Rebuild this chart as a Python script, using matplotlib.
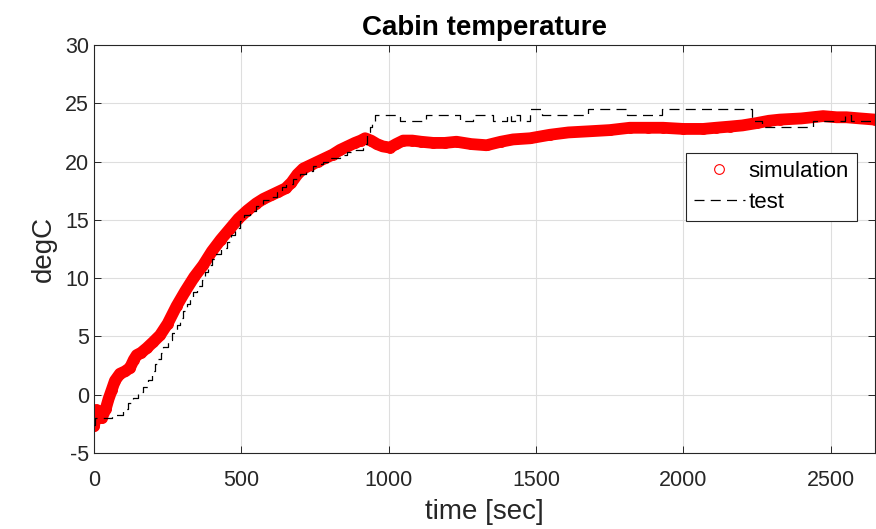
import matplotlib
matplotlib.use("Agg")
import matplotlib.pyplot as plt
import numpy as np

plt.rcParams['font.family'] = ['Liberation Sans', 'DejaVu Sans']
plt.rcParams['axes.unicode_minus'] = False

# Simulation readings (time [s], temperature [degC])
sim_time = [0, 9, 26, 40, 49, 60, 71, 88, 105, 122, 135, 145, 160, 179, 200, 224,
            250, 280, 310, 340, 370, 400, 430, 460, 490, 520, 550, 575, 600, 625,
            650, 670, 690, 710, 735, 760, 785, 810, 835, 860, 885, 905, 920, 940,
            960, 980, 1004, 1025, 1049, 1080, 1110, 1151, 1190, 1230, 1280, 1332,
            1380, 1422, 1480, 1547, 1610, 1682, 1750, 1818, 1880, 1931, 2000, 2067,
            2110, 2157, 2200, 2248, 2290, 2327, 2400, 2474, 2520, 2553, 2600, 2650]
sim_temp = [-2.7, -1.3, -2.0, -1.2, -0.4, 0.4, 1.2, 1.8, 2.0, 2.3, 3.0, 3.4, 3.6,
            4.0, 4.5, 5.1, 6.1, 7.6, 8.9, 10.1, 11.1, 12.3, 13.3, 14.2, 15.1, 15.8,
            16.4, 16.8, 17.1, 17.4, 17.7, 18.2, 18.9, 19.4, 19.7, 20.0, 20.3, 20.6,
            21.0, 21.3, 21.6, 21.8, 22.0, 21.8, 21.5, 21.3, 21.2, 21.5, 21.8, 21.8,
            21.7, 21.6, 21.6, 21.7, 21.5, 21.4, 21.7, 21.9, 22.0, 22.3, 22.5, 22.6,
            22.7, 22.9, 22.9, 22.9, 22.8, 22.8, 22.9, 23.0, 23.1, 23.3, 23.5, 23.6,
            23.7, 23.9, 23.8, 23.8, 23.7, 23.6]

# Test readings (step start time [s], temperature [degC])
test_time = [0, 4, 60, 99, 116, 133, 150, 167, 182, 196, 207, 218, 227, 235, 250,
             264, 280, 292, 303, 314, 326, 337, 351, 365, 377, 388, 399, 410, 430,
             450, 465, 480, 495, 510, 530, 550, 574, 597, 620, 637, 653, 676, 699,
             720, 744, 760, 778, 805, 834, 860, 885, 914, 925, 935, 943, 955, 1038,
             1126, 1242, 1285, 1355, 1400, 1415, 1430, 1445, 1478, 1519, 1676, 1808,
             1926, 2232, 2268, 2440, 2548, 2570, 2650]
test_temp = [-2.6, -2.0, -1.7, -1.2, -0.7, -0.3, 0.2, 0.7, 1.3, 2.0, 2.6, 3.1, 3.6,
             4.1, 4.7, 5.3, 6.0, 6.6, 7.2, 7.8, 8.3, 8.8, 9.3, 9.8, 10.5, 11.1, 11.6,
             12.1, 12.6, 13.1, 13.7, 14.3, 14.9, 15.4, 15.8, 16.2, 16.7, 17.0, 17.4,
             17.8, 18.1, 18.5, 18.9, 19.2, 19.6, 19.8, 20.0, 20.3, 20.6, 20.8, 21.0,
             21.5, 22.5, 23.0, 23.5, 24.0, 23.5, 24.0, 23.5, 24.0, 23.5, 24.0, 23.5,
             24.0, 23.5, 24.5, 24.0, 24.5, 24.0, 24.5, 23.5, 23.0, 23.5, 24.0, 23.5,
             23.5]

x_ticks = [0, 500, 1000, 1500, 2000, 2500]
y_ticks = [-5, 0, 5, 10, 15, 20, 25, 30]

fig = plt.figure(figsize=(8.76, 5.29), dpi=100)
ax = fig.add_axes([94/876, 76/529, 781/876, 408/529])

ax.plot(sim_time, sim_temp, '-', color='red', lw=8.5, solid_capstyle='round',
        solid_joinstyle='round', label='_nolegend_', zorder=2)
ax.plot(sim_time, sim_temp, 'o', ls='none', mfc='none', mec='red', ms=7,
        mew=0.8, label='simulation', zorder=2)
ln, = ax.plot(test_time, test_temp, color='black', lw=0.9, drawstyle='steps-post',
              label='test', zorder=3)
ln.set_dashes([8, 5])

ax.set_xlim(0, 2650)
ax.set_ylim(-5, 30)
ax.set_xticks(x_ticks)
ax.set_yticks(y_ticks)
ax.tick_params(direction='in', top=True, right=True, labelsize=15.5,
               length=5, width=0.7, colors='#262626', labelcolor='#262626')
ax.tick_params(axis='x', pad=12)
for s in ax.spines.values():
    s.set_linewidth(0.8)
    s.set_color('#262626')
ax.grid(True, color='#dedede', lw=0.8)
ax.set_axisbelow(True)

ax.set_title('Cabin temperature', fontsize=20, fontweight='bold', pad=7)
ax.set_xlabel('time [sec]', fontsize=20, labelpad=6, color='#262626')
ax.set_ylabel('degC', fontsize=20, labelpad=6, color='#262626')

leg = ax.legend(loc='upper left', bbox_to_anchor=(0.758, 0.735, 0.219, 0.0),
                mode='expand', fontsize=16, frameon=True, fancybox=False,
                handlelength=2.3, handletextpad=0.15, borderpad=0.35,
                labelspacing=0.45, borderaxespad=0)
leg.get_frame().set_edgecolor('#262626')
leg.get_frame().set_linewidth(0.8)
leg.get_frame().set_alpha(1)

fig.savefig('out.png', dpi=100)
